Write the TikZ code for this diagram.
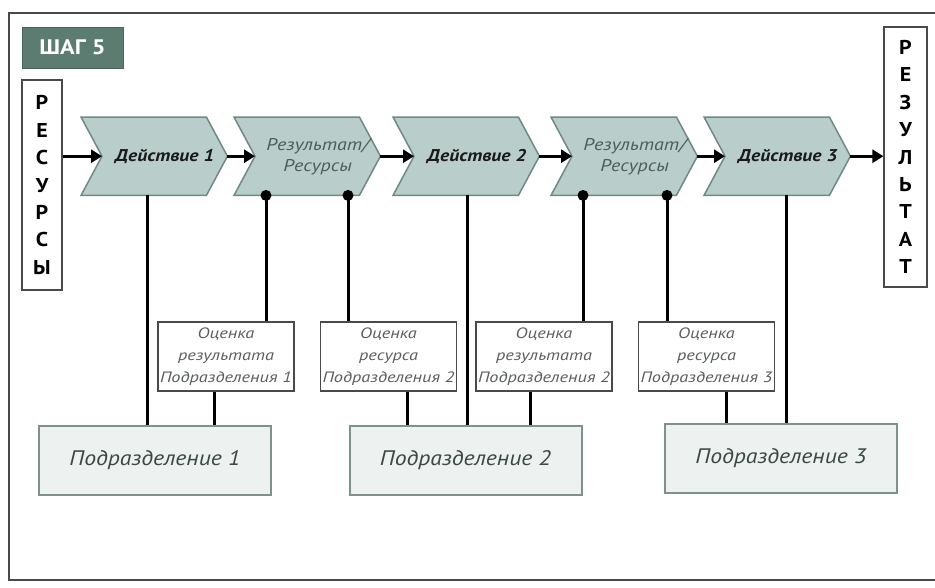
\documentclass[tikz,border=0pt]{standalone}
\usepackage{fontspec}
\setmainfont{PT Sans}
\usetikzlibrary{arrows.meta,backgrounds}
\definecolor{chevfill}{HTML}{B9CDCA}
\definecolor{chevline}{HTML}{6F8A86}
\definecolor{chevtext}{HTML}{4D5C59}
\definecolor{stepfill}{HTML}{5C7C71}
\definecolor{divfill}{HTML}{EDF1EF}
\definecolor{divline}{HTML}{7D928D}
\definecolor{divtext}{HTML}{3B4845}
\definecolor{evaltext}{HTML}{5A5F5E}
\definecolor{framecol}{HTML}{4A4A4A}
\newcommand\chevpath[1]{\path[chevshape] ([xshift=-21pt]#1.north west) -- ([xshift=-21pt]#1.north east) -- (#1.east) -- ([xshift=-21pt]#1.south east) -- ([xshift=-21pt]#1.south west) -- (#1.west) -- cycle;}
\newcommand\vconn[3]{\coordinate (tmp) at (#3,0); \draw[vline] (#1.south -| tmp) -- (#2.north -| tmp);}
\newcommand\vconndot[3]{\coordinate (tmp) at (#3,0); \draw[vline] (#1.south -| tmp) -- (#2.north -| tmp); \fill (#1.south -| tmp) circle (5.5pt);}
\begin{document}
\begin{tikzpicture}[x=1pt,y=-1pt,
  chevnode/.style={minimum width=125pt, minimum height=78pt, inner sep=0pt, anchor=north west},
  chevshape/.style={fill=chevfill, draw=chevline, line width=1.5pt},
  acttext/.style={font=\fontsize{17}{20}\selectfont\addfontfeatures{FakeStretch=1.15}\bfseries\itshape, text=black!90},
  restext/.style={font=\fontsize{17}{21}\selectfont\addfontfeatures{FakeStretch=1.18}\itshape, text=chevtext, align=center},
  stepbox/.style={fill=stepfill, draw=stepfill!80!black, line width=1pt, minimum width=101pt, minimum height=41pt, inner sep=0pt, text=white, font=\fontsize{21}{22}\selectfont\addfontfeatures{FakeStretch=1.15}\bfseries},
  vertbox/.style={draw=framecol, line width=1.2pt, fill=white, inner sep=0pt, align=center, font=\fontsize{20}{27.4}\selectfont\addfontfeatures{FakeStretch=1.1}\bfseries},
  evalbox/.style={draw=framecol, line width=1.2pt, fill=white, minimum width=136pt, minimum height=69pt, inner sep=0pt, align=center, text=evaltext, font=\fontsize{15}{22}\selectfont\addfontfeatures{FakeStretch=1.22}\itshape},
  divbox/.style={draw=divline, line width=2pt, fill=divfill, minimum width=232pt, minimum height=69pt, inner sep=0pt, text=divtext, font=\fontsize{21}{24}\selectfont\addfontfeatures{FakeStretch=1.13}\itshape},
  vline/.style={line width=3pt, black},
  arr/.style={line width=3pt, black, -{Triangle[length=11pt,width=13pt]}}
]
\useasboundingbox (0,0) rectangle (935,587);
\begin{pgfonlayer}{background}
\fill[white] (0,0) rectangle (935,587);
\end{pgfonlayer}
\draw[framecol, line width=1.5pt] (940,13) -- (9,13) -- (9,580) -- (940,580);

\node[stepbox] (step) at (72.5,47.5) {ШАГ 5};
\node[vertbox, minimum width=40pt, minimum height=210pt] (res) at (42,185) {Р\\Е\\С\\У\\Р\\С\\Ы};
\node[vertbox, minimum width=43pt, minimum height=260pt] (out) at (905.5,157) {Р\\Е\\З\\У\\Л\\Ь\\Т\\А\\Т};

\node[chevnode, acttext] (a1) at (102,117) {Действие 1};
\node[chevnode, restext] (r1) at (255,117) {Результат/\\Ресурсы};
\node[chevnode, acttext] (a2) at (414,117) {Действие 2};
\node[chevnode, restext] (r2) at (572,117) {Результат/\\Ресурсы};
\node[chevnode, acttext] (a3) at (725,117) {Действие 3};
\begin{pgfonlayer}{background}
\chevpath{a1}\chevpath{r1}\chevpath{a2}\chevpath{r2}\chevpath{a3}
\end{pgfonlayer}

\draw[arr] (res.east |- a1.west) -- (a1.west);
\draw[arr] (a1.east) -- (r1.west);
\draw[arr] (r1.east) -- (a2.west);
\draw[arr] (a2.east) -- (r2.west);
\draw[arr] (r2.east) -- (a3.west);
\draw[arr] (a3.east) -- (out.west |- a3.east);

\node[evalbox] (o1) at (226,356.5) {Оценка\\результата\\Подразделения 1};
\node[evalbox] (o2) at (388.5,356.5) {Оценка\\ресурса\\Подразделения 2};
\node[evalbox] (o3) at (544,356.5) {Оценка\\результата\\Подразделения 2};
\node[evalbox] (o4) at (706.5,356.5) {Оценка\\ресурса\\Подразделения 3};

\node[divbox] (p1) at (155,460.5) {Подразделение 1};
\node[divbox] (p2) at (465.5,460.5) {Подразделение 2};
\node[divbox] (p3) at (781,458.5) {Подразделение 3};

\vconn{a1}{p1}{147}
\vconndot{r1}{o1}{266}
\vconndot{r1}{o2}{348}
\vconn{o1}{p1}{214}
\vconn{o2}{p2}{407}
\vconn{a2}{p2}{467}
\vconndot{r2}{o3}{583}
\vconndot{r2}{o4}{667}
\vconn{o3}{p2}{530}
\vconn{o4}{p3}{726}
\vconn{a3}{p3}{786}
\end{tikzpicture}
\end{document}
